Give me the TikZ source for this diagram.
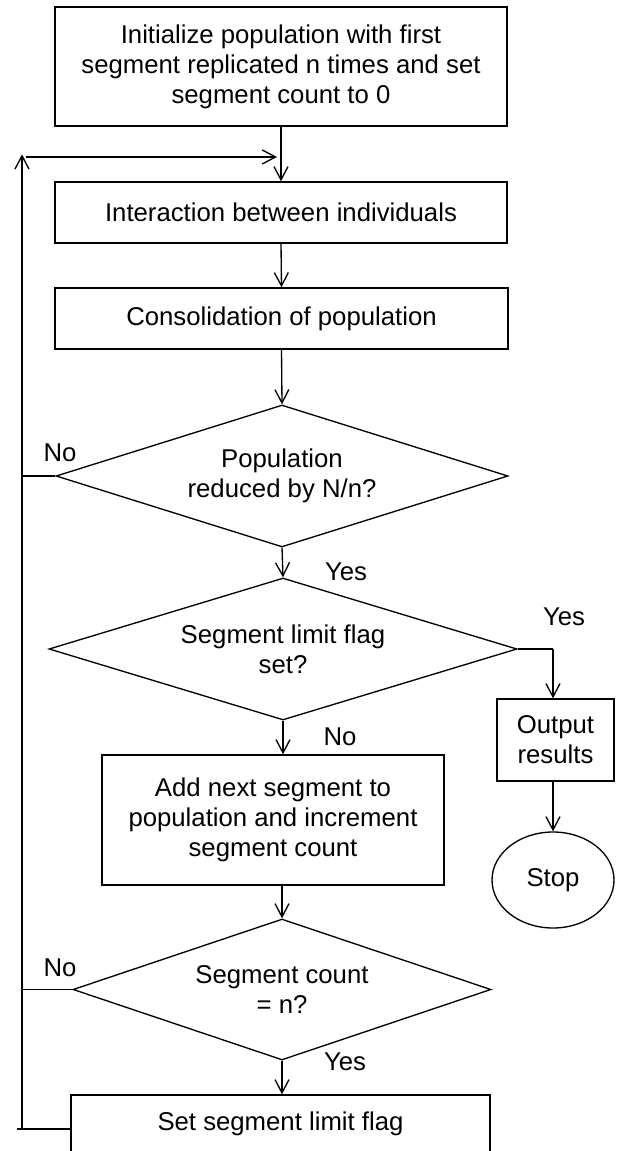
\documentclass[tikz,border=0pt]{standalone}
\usepackage{fontspec}
\setmainfont{Liberation Sans}
\usetikzlibrary{shapes.geometric,arrows.meta}

\begin{document}
\begin{tikzpicture}[x=0.75pt,y=0.75pt,yscale=-1,xscale=1,
  line width=1pt,
  every node/.style={font=\fontsize{19.3}{22.5}\selectfont},
  procbox/.style={draw,rectangle,align=center,inner sep=0pt},
  decision/.style={draw,diamond,aspect=3,align=center,inner sep=0pt},
  terminal/.style={draw,ellipse,inner sep=0pt},
  flow/.style={-{Straight Barb[length=10pt,width=10.5pt]}},
  answer/.style={inner sep=0pt}]
%set diagram left start at 0, and has height of 1151
\useasboundingbox (0,0) rectangle (621,1151);
\clip (0,0) rectangle (621,1151);

%Shape: Rectangle [id:init]
\node [procbox,minimum width=339pt,minimum height=89.25pt] (init) at (281,66.5) {Initialize population with first\\segment replicated n times and set\\segment count to 0};
%Shape: Rectangle [id:interact]
\node [procbox,minimum width=339pt,minimum height=45.75pt] (interact) at (281,212.5) {Interaction between individuals};
%Shape: Rectangle [id:consol]
\node [procbox,minimum width=339.75pt,minimum height=45.75pt] (consol) at (281.5,318.5) {Consolidation of population};
%Shape: Diamond [id:reduced]
\node [decision,minimum width=339pt,minimum height=106.5pt] (reduced) at (282,476) {Population\\reduced by N/n?};
%Shape: Diamond [id:limitset]
\node [decision,minimum width=351pt,minimum height=106.5pt] (limitset) at (283,649) {Segment limit flag\\set?};
%Shape: Rectangle [id:addseg]
\node [procbox,minimum width=256.5pt,minimum height=97.5pt] (addseg) at (273,820) {Add next segment to\\population and increment\\segment count};
%Shape: Rectangle [id:output]
\node [procbox,minimum width=87.75pt,minimum height=61.5pt] (output) at (555.5,740) {Output\\results};
%Shape: Ellipse [id:stop]
\node [terminal,minimum width=91.5pt,minimum height=72pt] (stop) at (553,880) {Stop};
%Shape: Diamond [id:countn]
\node [decision,minimum width=313.5pt,minimum height=105.75pt] (countn) at (282,989.5) {Segment count\\= n?};
%Shape: Rectangle [id:setflag]
\node [procbox,minimum width=314.25pt,minimum height=42.75pt] (setflag) at (280.5,1123.5) {Set segment limit flag};

% Loop coordinates
\coordinate (loopb) at (17,1129);
\coordinate (loopt) at (22,157);
\coordinate (merge) at (277,157);
\coordinate (yesturn) at (553,649);

%Straight Lines
\draw [flow] (init.south) -- (interact.north);
\draw [flow] (interact.south) -- (consol.north);
\draw [flow] (consol.south) -- (reduced.north);
\draw [flow] (reduced.south) -- (limitset.north);
\draw (limitset.east) -- (yesturn);
\draw [flow] (yesturn) -- (yesturn |- output.north);
\draw [flow] (yesturn |- output.south) -- (stop.north);
\draw [flow] (limitset.south) -- (limitset.south |- addseg.north);
\draw [flow] (countn.north |- addseg.south) -- (countn.north);
\draw [flow] (countn.south) -- (countn.south |- setflag.north);
\draw (reduced.west) -- (reduced.west -| loopt);
\draw (countn.west) -- (countn.west -| loopt);
\draw (setflag.west |- loopb) -- (loopb);
\draw [flow] (loopb -| loopt) -- ([yshift=-2]loopt);
\draw [flow] ([xshift=3]loopt) -- (merge);

% Text Node
\node [answer] (no1) at (60,453) {No};
% Text Node
\node [answer] (yes1) at (346,572) {Yes};
% Text Node
\node [answer] (yes2) at (564,617) {Yes};
% Text Node
\node [answer] (no2) at (340,737) {No};
% Text Node
\node [answer] (no3) at (60,968) {No};
% Text Node
\node [answer] (yes3) at (345,1062) {Yes};

\end{tikzpicture}
\end{document}
